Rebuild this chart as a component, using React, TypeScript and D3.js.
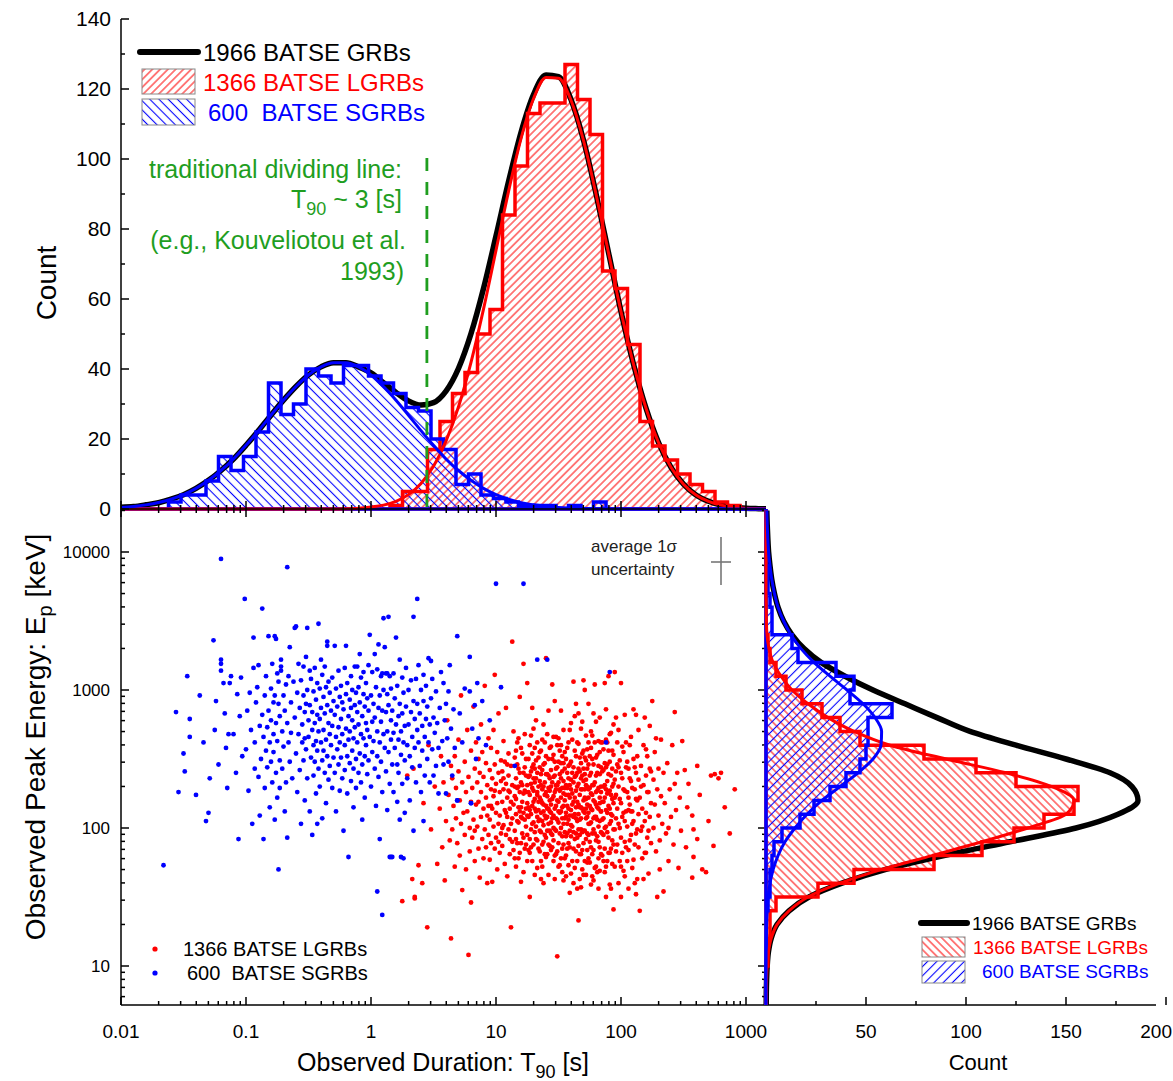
import React, { useEffect, useRef } from 'react';
import * as d3 from 'd3';

// ---------- top panel: T90 histograms, 0.1 dex bins ----------
const binWidth = 0.1;
const sgrbT90Lo = -2.02; // lower edge of first bin, log10(T90 / s)
const sgrbT90Counts = [0, 0, 0, 0, 2, 4, 4, 8, 15, 11, 15, 22, 36, 27, 30, 40, 38, 36, 41, 41, 38, 36, 33, 29, 28, 20, 17, 7, 10, 4, 3, 2, 1, 1, 1, 0, 1, 0, 2, 0, 0, 0, 0, 0, 0, 0, 0, 0, 0, 0, 0, 0];
const lgrbT90Lo = -2.148;
const lgrbT90Counts = [0, 0, 0, 0, 0, 0, 0, 0, 0, 0, 0, 0, 0, 0, 0, 0, 0, 0, 0, 0, 0, 0, 0, 1, 5, 5, 17, 25, 33, 39, 50, 57, 84, 98, 113, 116, 116, 127, 117, 107, 68, 63, 47, 25, 18, 14, 10, 7, 5, 2, 1, 0, 0, 0];

const t90Grid = [-2.0, -1.9, -1.8, -1.7, -1.6, -1.5, -1.4, -1.3, -1.2, -1.1, -1.0, -0.9, -0.8, -0.7, -0.6, -0.5, -0.4, -0.3, -0.2, -0.1, 0.0, 0.1, 0.2, 0.3, 0.4, 0.5, 0.6, 0.7, 0.8, 0.9, 1.0, 1.1, 1.2, 1.3, 1.4, 1.5, 1.6, 1.7, 1.8, 1.9, 2.0, 2.1, 2.2, 2.3, 2.4, 2.5, 2.6, 2.7, 2.8, 2.9, 3.0, 3.1, 3.2];
const allT90Fit = [0.5, 0.7, 1.2, 1.8, 2.8, 4.1, 5.9, 8.2, 11.0, 14.3, 18.2, 22.4, 26.8, 31.1, 35.0, 38.3, 40.6, 41.8, 41.8, 40.6, 38.9, 36.1, 33.3, 30.9, 29.7, 30.4, 33.7, 40.2, 50.1, 63.0, 78.0, 93.5, 107.6, 118.4, 124.0, 123.5, 117.0, 105.4, 90.1, 73.3, 56.4, 41.4, 28.8, 19.0, 11.9, 7.1, 4.0, 2.2, 1.1, 0.5, 0.2, 0.1, 0.05];
const sgrbT90Fit = [0.44, 0.73, 1.18, 1.84, 2.8, 4.1, 5.9, 8.2, 11.0, 14.3, 18.2, 22.4, 26.8, 31.1, 35.0, 38.3, 40.6, 41.8, 41.8, 40.6, 38.3, 35.0, 31.1, 26.8, 22.4, 18.2, 14.3, 11.0, 8.2, 5.9, 4.1, 2.8, 1.8, 1.2, 0.7, 0.4, 0.25, 0.15, 0.1, 0.05, 0, 0, 0, 0, 0, 0, 0, 0, 0, 0, 0, 0, 0];
const lgrbT90Fit = [0, 0, 0, 0, 0, 0, 0, 0, 0, 0, 0, 0, 0, 0, 0, 0, 0, 0, 0.05, 0.2, 0.55, 1.1, 2.2, 4.1, 7.3, 12.2, 19.4, 29.2, 41.9, 57.1, 73.9, 90.7, 105.8, 117.2, 123.3, 123.1, 116.8, 105.3, 90.0, 73.2, 56.4, 41.4, 28.8, 19.0, 11.9, 7.1, 4.0, 2.2, 1.1, 0.5, 0.2, 0.1, 0.05];

// ---------- right panel: Ep histograms, 0.1 dex bins ----------
const epLo = 0.7; // lower edge of first bin, log10(Ep / keV)
const lgrbEpCounts = [0, 0, 0, 1, 1, 2, 2, 5, 26, 44, 84, 108, 124, 139, 154, 156, 125, 105, 79, 47, 37, 28, 18, 10, 5, 2, 1, 0, 0, 0, 0, 0, 0, 0, 0, 0, 0];
const sgrbEpCounts = [0, 0, 0, 0, 0, 0, 0, 1, 2, 2, 3, 4, 8, 17, 24, 32, 40, 47, 50, 51, 51, 63, 42, 44, 35, 16, 13, 3, 3, 2, 1, 1, 0, 0, 0, 0, 0];

const epGrid = [0.7, 0.8, 0.9, 1.0, 1.1, 1.2, 1.3, 1.4, 1.5, 1.6, 1.7, 1.8, 1.9, 2.0, 2.1, 2.2, 2.3, 2.4, 2.5, 2.6, 2.7, 2.8, 2.9, 3.0, 3.1, 3.2, 3.3, 3.4, 3.5, 3.6, 3.7, 3.8, 3.9, 4.0, 4.1, 4.2, 4.3];
const lgrbEpFit = [0.08, 0.15, 0.3, 0.6, 1.2, 2.6, 5.5, 11.5, 21, 37, 58, 83, 108, 131, 150, 154, 143, 120, 90, 62, 44, 31, 21, 13, 7.5, 3.5, 1.5, 0.5, 0.2, 0.1, 0, 0, 0, 0, 0, 0, 0];
const sgrbEpFit = [0, 0, 0.01, 0.03, 0.07, 0.15, 0.3, 0.6, 1.1, 2.0, 3.6, 6, 9.5, 14.5, 20.5, 28, 37, 46, 53.5, 57.5, 57.8, 54.5, 48.5, 40.5, 32, 24, 17.5, 12.5, 8.8, 6.0, 4.2, 2.9, 2.0, 1.3, 0.9, 0.6, 0.4];
const allEpFit = [0.1, 0.15, 0.3, 0.6, 1.2, 2.6, 5.5, 11.5, 21.5, 38, 60, 89, 122, 155, 176, 186, 183, 172, 150, 125, 102, 85.5, 69.5, 53.5, 39.5, 27.5, 19, 13, 8.8, 6.0, 4.2, 2.9, 2.0, 1.3, 0.9, 0.6, 0.4];

const dividingT90 = 2.8;

// ---------- scatter: [log10(T90/s)*100, log10(Ep/keV)*100] ----------
const sgrbPoints = [
  [-166, 173], [-156, 284], [-150, 254], [-147, 310], [-154, 226], [-145, 279], [-145, 266], [-149, 241], [-140, 224], [-137, 296], [-134, 262],
  [-132, 205], [-130, 211], [-129, 236], [-126, 336], [-125, 271], [-124, 292], [-122, 246], [-120, 322], [-120, 319], [-120, 314], [-120, 395],
  [-118, 305], [-117, 283], [-116, 258], [-115, 229], [-114, 268], [-113, 305], [-112, 310], [-110, 268], [-108, 240], [-107, 297], [-106, 192],
  [-105, 281], [-104, 309], [-103, 252], [-101, 366], [-100, 257], [-99, 285], [-98, 227], [-97, 298], [-96, 271], [-95, 203], [-94, 338], [-94, 316],
  [-93, 262], [-93, 243], [-92, 291], [-91, 302], [-90, 318], [-90, 237], [-89, 274], [-89, 209], [-88, 250], [-87, 359], [-87, 282], [-86, 266],
  [-86, 192], [-85, 296], [-85, 229], [-84, 310], [-84, 256], [-83, 273], [-83, 244], [-82, 339], [-82, 285], [-81, 262], [-81, 215], [-80, 301],
  [-80, 248], [-80, 278], [-79, 319], [-79, 233], [-78, 291], [-78, 268], [-78, 255], [-77, 206], [-77, 339], [-77, 296], [-76, 337], [-76, 276],
  [-76, 240], [-75, 312], [-75, 263], [-75, 222], [-74, 306], [-74, 290], [-74, 170], [-73, 281], [-73, 249], [-73, 229], [-72, 322], [-72, 317],
  [-72, 314], [-71, 270], [-71, 243], [-70, 296], [-70, 259], [-69, 285], [-69, 212], [-68, 304], [-68, 233], [-67, 193], [-67, 276], [-67, 389],
  [-66, 310], [-66, 262], [-65, 331], [-65, 248], [-64, 291], [-64, 269], [-63, 236], [-62, 306], [-61, 345], [-61, 280], [-60, 346], [-60, 254],
  [-59, 298], [-59, 226], [-58, 319], [-58, 268], [-57, 287], [-57, 242], [-56, 307], [-56, 203], [-55, 262], [-55, 275], [-54, 296], [-54, 317],
  [-54, 249], [-53, 284], [-53, 220], [-53, 265], [-52, 324], [-52, 290], [-52, 257], [-51, 345], [-51, 300], [-51, 236], [-50, 278], [-50, 266],
  [-49, 314], [-49, 289], [-49, 212], [-48, 308], [-48, 251], [-47, 284], [-47, 271], [-47, 195], [-46, 299], [-46, 260], [-46, 238], [-45, 316],
  [-45, 276], [-45, 248], [-44, 293], [-44, 263], [-44, 225], [-43, 305], [-43, 282], [-43, 256], [-42, 348], [-42, 270], [-42, 243], [-43, 203],
  [-41, 301], [-41, 279], [-41, 230], [-40, 322], [-40, 262], [-40, 287], [-39, 249], [-39, 311], [-39, 207], [-38, 295], [-38, 271], [-38, 256],
  [-37, 283], [-37, 240], [-37, 317], [-36, 302], [-36, 264], [-36, 218], [-35, 335], [-35, 332], [-35, 289], [-35, 252], [-34, 306], [-34, 276],
  [-34, 235], [-33, 298], [-33, 268], [-33, 245], [-32, 285], [-32, 260], [-31, 309], [-31, 274], [-31, 229], [-30, 292], [-30, 251], [-29, 332],
  [-29, 282], [-29, 240], [-28, 301], [-28, 266], [-28, 212], [-27, 288], [-27, 257], [-26, 314], [-26, 273], [-26, 246], [-25, 295], [-25, 262],
  [-25, 227], [-24, 303], [-24, 279], [-24, 251], [-23, 268], [-23, 236], [-23, 291], [-22, 198], [-22, 286], [-21, 316], [-21, 260], [-21, 242],
  [-20, 297], [-20, 272], [-20, 332], [-19, 252], [-19, 225], [-19, 305], [-18, 281], [-18, 264], [-18, 179], [-17, 293], [-17, 247], [-17, 270],
  [-16, 310], [-16, 287], [-16, 234], [-15, 256], [-15, 278], [-15, 300], [-14, 265], [-14, 243], [-14, 215], [-13, 289], [-13, 317], [-13, 273],
  [-12, 250], [-12, 298], [-12, 229], [-11, 284], [-11, 262], [-11, 317], [-10, 302], [-10, 240], [-10, 275], [-9, 326], [-9, 291], [-9, 254],
  [-8, 268], [-8, 233], [-8, 309], [-7, 281], [-7, 246], [-7, 206], [-6, 297], [-6, 265], [-6, 313], [-5, 288], [-5, 252], [-5, 222], [-4, 276],
  [-4, 305], [-4, 260], [-3, 294], [-3, 239], [-3, 271], [-2, 318], [-2, 285], [-2, 249], [-1, 340], [-1, 266], [0, 296], [0, 230], [1, 313],
  [1, 277], [1, 255], [2, 290], [2, 263], [3, 326], [3, 243], [3, 280], [4, 302], [4, 216], [5, 270], [5, 252], [5, 315], [5, 154], [6, 287],
  [6, 237], [6, 333], [7, 262], [7, 296], [7, 192], [8, 277], [8, 310], [8, 248], [9, 285], [9, 226], [9, 137], [10, 268], [10, 300], [11, 331],
  [11, 258], [12, 284], [12, 312], [12, 241], [13, 297], [13, 270], [13, 213], [14, 353], [14, 289], [14, 255], [15, 310], [15, 232], [15, 179],
  [16, 278], [16, 264], [16, 301], [17, 246], [17, 285], [17, 179], [18, 312], [18, 269], [18, 226], [13, 312], [9, 312], [10, 352], [16, 179],
  [19, 294], [19, 258], [20, 275], [20, 338], [21, 246], [21, 303], [21, 219], [22, 281], [22, 264], [22, 240], [23, 322], [23, 290], [23, 206],
  [24, 270], [24, 253], [24, 179], [25, 309], [25, 283], [25, 232], [26, 262], [26, 298], [26, 178], [27, 249], [27, 274], [27, 211], [28, 288],
  [28, 316], [29, 260], [29, 236], [30, 300], [30, 275], [31, 252], [31, 220], [32, 284], [32, 307], [33, 266], [33, 244], [34, 353], [34, 292],
  [34, 198], [35, 279], [35, 258], [36, 308], [36, 233], [37, 366], [37, 271], [37, 290], [38, 262], [38, 318], [39, 283], [39, 245], [40, 300],
  [40, 226], [41, 274], [41, 256], [42, 311], [42, 292], [42, 205], [43, 266], [43, 238], [44, 279], [44, 303], [45, 250], [45, 288], [46, 262],
  [46, 323], [47, 233], [47, 275], [48, 321], [48, 294], [49, 308], [49, 257], [50, 280], [50, 238], [51, 269], [52, 299], [52, 245], [53, 276],
  [54, 258], [54, 225], [55, 287], [56, 313], [57, 263], [58, 246], [58, 305], [59, 278], [60, 290], [60, 225], [61, 265], [62, 299], [62, 248],
  [63, 318], [64, 272], [65, 238], [66, 286], [67, 258], [69, 339], [69, 220], [71, 283], [73, 262], [75, 301], [79, 324], [79, 299], [80, 218],
  [81, 272], [83, 289], [84, 250], [85, 305], [86, 265], [89, 292], [92, 260], [95, 278], [100, 377], [104, 302], [115, 245], [122, 377],
  [133, 322], [141, 322], [188, 262], [191, 313], [69, 220], [80, 218],
];

const lgrbPoints = [
  [25, 147], [29, 238], [33, 163], [35, 149], [35, 150], [38, 173], [41, 160], [34, 243], [42, 218], [45, 128], [46, 260], [48, 199], [51, 230],
  [53, 174], [55, 214], [56, 252], [57, 186], [58, 233], [59, 162], [60, 205], [61, 278], [62, 224], [63, 191], [64, 120], [64, 245], [65, 236],
  [65, 199], [66, 216], [67, 252], [67, 172], [68, 229], [68, 207], [69, 189], [70, 264], [70, 241], [71, 180], [71, 220], [72, 296], [72, 203],
  [73, 155], [73, 233], [74, 211], [75, 248], [75, 195], [76, 226], [76, 170], [77, 212], [77, 271], [78, 108], [78, 237], [79, 200], [79, 183],
  [80, 256], [80, 219], [80, 146], [81, 229], [81, 193], [82, 288], [82, 206], [83, 243], [83, 176], [84, 217], [84, 262], [83, 198], [85, 233],
  [85, 201], [86, 250], [86, 185], [86, 219], [87, 164], [87, 240], [88, 208], [88, 275], [88, 226], [89, 192], [89, 255], [90, 214], [90, 178],
  [90, 237], [91, 199], [91, 303], [92, 222], [92, 186], [92, 247], [93, 209], [93, 160], [93, 231], [94, 265], [94, 195], [94, 216], [95, 242],
  [95, 206], [95, 177], [96, 228], [96, 258], [96, 189], [97, 214], [97, 236], [97, 161], [98, 201], [98, 271], [98, 223], [99, 185], [99, 246],
  [99, 311], [100, 211], [100, 193], [100, 232], [101, 255], [101, 170], [101, 218], [102, 203], [102, 240], [102, 283], [103, 226], [103, 182],
  [103, 209], [104, 249], [104, 196], [104, 234], [96, 216], [99, 227], [102, 190], [105, 219], [105, 241], [105, 187], [106, 202], [106, 263],
  [106, 228], [107, 174], [107, 213], [107, 248], [108, 195], [108, 232], [108, 287], [109, 208], [109, 222], [109, 165], [110, 254], [110, 199],
  [110, 238], [111, 214], [111, 181], [111, 226], [112, 128], [112, 245], [112, 203], [113, 335], [113, 231], [113, 190], [114, 217], [114, 270],
  [114, 184], [106, 236], [108, 211], [110, 227], [112, 219], [105, 200], [109, 246], [111, 192], [113, 207], [115, 223], [115, 198], [115, 251],
  [116, 210], [116, 236], [116, 172], [117, 229], [117, 189], [117, 262], [118, 215], [118, 204], [118, 243], [119, 182], [119, 226], [119, 295],
  [120, 208], [120, 233], [120, 161], [121, 219], [121, 254], [121, 196], [122, 319], [122, 240], [122, 211], [123, 185], [123, 227], [123, 268],
  [124, 201], [124, 238], [124, 214], [115, 230], [116, 192], [117, 246], [118, 178], [119, 212], [120, 258], [121, 231], [122, 193], [123, 206],
  [124, 226], [115, 178], [116, 221], [117, 205], [118, 265], [119, 240], [120, 189], [121, 207], [122, 225], [123, 244], [124, 188], [118, 230],
  [120, 215], [122, 168], [124, 250], [116, 256], [125, 305], [125, 218], [125, 195], [126, 237], [126, 208], [126, 250], [127, 182], [127, 224],
  [127, 213], [128, 241], [128, 199], [128, 267], [129, 176], [129, 229], [129, 216], [130, 204], [130, 246], [130, 188], [131, 221], [131, 258],
  [131, 233], [132, 192], [132, 212], [132, 278], [133, 226], [133, 171], [133, 240], [134, 205], [134, 219], [134, 251], [125, 231], [126, 184],
  [127, 260], [128, 210], [129, 244], [130, 227], [131, 197], [132, 236], [133, 208], [134, 185], [125, 209], [126, 226], [127, 192], [128, 232],
  [129, 203], [130, 272], [131, 214], [132, 249], [133, 262], [134, 230], [125, 176], [126, 215], [127, 238], [128, 186], [129, 254], [130, 219],
  [131, 243], [132, 201], [133, 191], [134, 213], [127, 150], [129, 287], [131, 166], [133, 224], [130, 236], [135, 222], [135, 198], [135, 255],
  [136, 211], [136, 239], [136, 176], [137, 228], [137, 205], [137, 264], [138, 190], [138, 217], [138, 246], [139, 233], [139, 181], [139, 209],
  [140, 323], [140, 252], [140, 226], [141, 198], [141, 214], [141, 239], [142, 166], [142, 229], [142, 203], [143, 258], [143, 220], [143, 187],
  [144, 242], [144, 211], [144, 196], [135, 234], [136, 220], [137, 188], [138, 230], [139, 262], [140, 207], [141, 181], [142, 250], [143, 236],
  [144, 217], [135, 206], [136, 256], [137, 242], [138, 202], [139, 224], [140, 193], [141, 268], [142, 214], [143, 198], [144, 230], [135, 183],
  [136, 197], [137, 218], [138, 275], [139, 195], [140, 239], [141, 223], [142, 188], [143, 212], [144, 259], [135, 244], [137, 172], [139, 247],
  [141, 208], [143, 227], [136, 231], [138, 212], [140, 216], [142, 238], [144, 184], [136, 163], [138, 160], [140, 179], [142, 285], [144, 204],
  [145, 304], [145, 221], [145, 195], [146, 237], [146, 209], [146, 253], [147, 180], [147, 226], [147, 214], [148, 243], [148, 198], [148, 266],
  [149, 107], [149, 231], [149, 206], [150, 219], [150, 189], [150, 248], [151, 227], [151, 173], [151, 211], [152, 260], [152, 236], [152, 200],
  [153, 215], [153, 185], [153, 241], [154, 225], [154, 203], [154, 271], [145, 233], [146, 191], [147, 248], [148, 216], [149, 260], [150, 204],
  [151, 239], [152, 222], [153, 194], [154, 247], [145, 207], [146, 223], [147, 199], [148, 231], [149, 183], [150, 233], [151, 256], [152, 212],
  [153, 229], [154, 188], [145, 250], [146, 176], [147, 238], [148, 207], [149, 220], [150, 265], [151, 196], [152, 178], [153, 252], [154, 216],
  [145, 186], [147, 163], [149, 244], [151, 228], [153, 207], [146, 266], [148, 181], [150, 212], [152, 247], [154, 234], [146, 200], [148, 228],
  [150, 172], [152, 285], [154, 162], [147, 292], [153, 168], [155, 220], [155, 243], [155, 197], [156, 211], [156, 231], [156, 180], [157, 258],
  [157, 216], [157, 203], [158, 236], [158, 189], [158, 224], [159, 271], [159, 209], [159, 246], [160, 194], [160, 228], [160, 167], [161, 217],
  [161, 240], [161, 201], [162, 306], [162, 233], [162, 185], [163, 222], [163, 256], [163, 210], [164, 196], [164, 238], [164, 215], [155, 229],
  [156, 250], [157, 185], [158, 206], [159, 231], [160, 213], [161, 264], [162, 219], [163, 192], [164, 227], [155, 207], [156, 194], [157, 240],
  [158, 262], [159, 198], [160, 248], [161, 176], [162, 208], [163, 237], [164, 252], [155, 178], [156, 224], [157, 229], [158, 214], [159, 186],
  [160, 202], [161, 225], [162, 244], [163, 171], [164, 183], [155, 255], [157, 196], [159, 222], [161, 209], [163, 281], [156, 165], [158, 245],
  [160, 235], [162, 197], [164, 207], [156, 208], [158, 173], [160, 276], [162, 160], [164, 290], [166, 133], [159, 153], [165, 219], [165, 240],
  [165, 193], [166, 210], [166, 232], [166, 261], [167, 181], [167, 224], [167, 206], [168, 247], [168, 199], [168, 215], [169, 238], [169, 170],
  [169, 228], [170, 307], [170, 212], [170, 189], [171, 251], [171, 222], [171, 198], [172, 235], [172, 207], [172, 267], [173, 184], [173, 217],
  [173, 243], [174, 228], [174, 195], [174, 211], [165, 205], [166, 187], [167, 241], [168, 228], [169, 214], [170, 234], [171, 176], [172, 221],
  [173, 257], [174, 203], [165, 262], [166, 217], [167, 195], [168, 181], [169, 254], [170, 220], [171, 239], [172, 192], [173, 208], [174, 246],
  [165, 176], [166, 243], [167, 215], [168, 272], [169, 197], [170, 243], [171, 211], [172, 166], [173, 230], [174, 222], [165, 230], [167, 251],
  [169, 184], [171, 228], [173, 196], [166, 199], [168, 236], [170, 166], [172, 249], [174, 178], [166, 283], [168, 207], [170, 198], [172, 231],
  [174, 262], [167, 163], [169, 277], [171, 300], [173, 175], [165, 156], [170, 256], [172, 214], [168, 157], [174, 290], [175, 216], [175, 238],
  [175, 190], [176, 225], [176, 204], [176, 258], [177, 181], [177, 231], [177, 213], [178, 246], [178, 199], [178, 220], [179, 304], [179, 233],
  [179, 171], [180, 208], [180, 251], [180, 226], [181, 194], [181, 215], [181, 240], [182, 178], [182, 229], [182, 263], [183, 205], [183, 222],
  [183, 186], [184, 244], [184, 212], [184, 197], [175, 229], [176, 186], [177, 250], [178, 207], [179, 219], [180, 238], [181, 168], [182, 214],
  [183, 255], [184, 230], [175, 203], [176, 240], [177, 196], [178, 231], [179, 262], [180, 191], [181, 227], [182, 201], [183, 239], [184, 181],
  [175, 175], [176, 214], [177, 267], [178, 184], [179, 208], [180, 172], [181, 253], [182, 245], [183, 218], [184, 262], [175, 252], [177, 224],
  [179, 196], [181, 206], [183, 169], [176, 270], [178, 162], [180, 217], [182, 190], [184, 226], [176, 159], [178, 283], [180, 277], [182, 156],
  [184, 212], [177, 165], [183, 280], [185, 219], [185, 241], [185, 196], [186, 230], [186, 207], [186, 257], [187, 185], [187, 222], [187, 305],
  [188, 244], [188, 201], [188, 213], [189, 176], [189, 234], [189, 262], [190, 310], [190, 216], [190, 193], [191, 248], [191, 227], [191, 182],
  [192, 205], [192, 238], [192, 269], [193, 191], [193, 221], [193, 209], [194, 253], [194, 199], [194, 232], [185, 206], [186, 176], [187, 247],
  [188, 228], [189, 211], [190, 239], [191, 203], [192, 185], [193, 243], [194, 218], [185, 262], [186, 219], [187, 200], [188, 172], [189, 225],
  [190, 256], [191, 214], [192, 224], [193, 174], [194, 188], [185, 180], [186, 242], [187, 231], [188, 264], [189, 197], [190, 182], [191, 268],
  [192, 156], [193, 256], [194, 141], [186, 195], [188, 286], [190, 226], [192, 210], [194, 275], [187, 168], [189, 246], [191, 159], [193, 230],
  [195, 313], [188, 150], [195, 222], [195, 199], [196, 241], [196, 183], [197, 214], [197, 262], [198, 203], [198, 230], [199, 176], [199, 249],
  [200, 305], [200, 218], [200, 193], [201, 236], [201, 208], [202, 169], [202, 255], [203, 227], [203, 190], [204, 244], [204, 212], [195, 235],
  [196, 207], [197, 188], [198, 271], [199, 221], [200, 240], [201, 182], [202, 228], [203, 205], [204, 262], [195, 172], [197, 246], [199, 200],
  [201, 259], [203, 165], [196, 224], [198, 160], [200, 172], [202, 211], [204, 186], [196, 280], [198, 244], [200, 150], [203, 282], [205, 226],
  [205, 201], [206, 243], [206, 184], [207, 217], [207, 260], [208, 195], [208, 234], [209, 171], [209, 212], [210, 250], [210, 205], [211, 228],
  [211, 188], [212, 282], [212, 221], [212, 240], [213, 199], [213, 163], [214, 235], [214, 210], [205, 248], [206, 213], [207, 191], [208, 266],
  [209, 229], [210, 177], [211, 244], [212, 196], [213, 220], [214, 186], [205, 176], [207, 236], [209, 203], [211, 160], [213, 252], [206, 222],
  [208, 212], [210, 286], [212, 152], [214, 271], [206, 156], [215, 140], [215, 222], [216, 245], [216, 198], [217, 214], [217, 178], [218, 260],
  [218, 231], [219, 205], [219, 280], [219, 182], [220, 238], [220, 211], [221, 193], [221, 252], [222, 167], [222, 226], [223, 208], [223, 243],
  [224, 189], [224, 218], [216, 230], [217, 201], [218, 163], [220, 257], [221, 226], [222, 198], [223, 274], [224, 241], [220, 182], [225, 292],
  [226, 235], [226, 200], [227, 217], [227, 255], [228, 183], [229, 150], [229, 228], [230, 209], [230, 243], [231, 191], [232, 223], [232, 264],
  [233, 203], [234, 154], [234, 240], [228, 265], [231, 170], [235, 218], [236, 196], [237, 247], [238, 176], [239, 228], [240, 208], [241, 260],
  [242, 188], [243, 284], [243, 232], [244, 213], [238, 200], [245, 240], [246, 171], [247, 222], [248, 198], [249, 263], [251, 242], [252, 186],
  [253, 215], [254, 232], [257, 209], [257, 164], [258, 179], [258, 199], [261, 192], [261, 245], [263, 224], [265, 170], [268, 168], [270, 205],
  [272, 238], [274, 187], [275, 239], [278, 236], [280, 240], [283, 215], [287, 196], [291, 228],
];

const RED = '#ff0000';
const BLUE = '#0000ff';
const GREEN = '#1f9e1f';
const FONT = "'Liberation Sans', Arial, sans-serif";

export default function App() {
  const ref = useRef<SVGSVGElement>(null);

  useEffect(() => {
    const svg = d3.select(ref.current);
    svg.selectAll('*').remove();
    svg.attr('font-family', FONT);

    const L = 121, R = 766, TOP = 19, MID = 509, BOT = 1005;

    const x = d3.scaleLog().domain([0.01, Math.pow(10, 3.16)]).range([L, R]);
    const yTop = d3.scaleLinear().domain([0, 140]).range([MID, TOP]);
    const yEp = d3.scaleLog().domain([Math.pow(10, 0.7174), Math.pow(10, 4.3116)]).range([BOT, MID]);
    const xCnt = d3.scaleLinear().domain([0, 200]).range([R, R + 400]);

    const xl = (v: number) => x(Math.pow(10, v));
    const yl = (v: number) => yEp(Math.pow(10, v));

    // hatch patterns
    const defs = svg.append('defs');
    const hatch = (id: string, color: string, gap: number, angle: number, w: number) => {
      defs.append('pattern').attr('id', id).attr('patternUnits', 'userSpaceOnUse')
        .attr('width', gap).attr('height', gap).attr('patternTransform', `rotate(${angle})`)
        .append('line').attr('x1', gap / 2).attr('y1', 0).attr('x2', gap / 2).attr('y2', gap)
        .attr('stroke', color).attr('stroke-width', w);
    };
    hatch('redUp', RED, 5.5, 45, 1);
    hatch('blueDown', BLUE, 6.5, -45, 1.1);
    hatch('redDown', RED, 5.5, -45, 1);
    hatch('blueUp', BLUE, 6.5, 45, 1.1);

    defs.append('clipPath').attr('id', 'clipTop').append('rect').attr('x', L).attr('y', 0).attr('width', R - L).attr('height', MID + 3);
    defs.append('clipPath').attr('id', 'clipRight').append('rect').attr('x', R - 3).attr('y', MID).attr('width', 420).attr('height', BOT - MID);
    defs.append('clipPath').attr('id', 'clipScatter').append('rect').attr('x', L).attr('y', MID).attr('width', R - L).attr('height', BOT - MID);

    const line = d3.line<[number, number]>();

    // ---------- top panel ----------
    const top = svg.append('g').attr('clip-path', 'url(#clipTop)');
    const stepTop = (lo: number, counts: number[]) => {
      const pts: [number, number][] = [[xl(lo), yTop(0)]];
      counts.forEach((c, i) => {
        pts.push([xl(lo + i * binWidth), yTop(c)]);
        pts.push([xl(lo + (i + 1) * binWidth), yTop(c)]);
      });
      pts.push([xl(lo + counts.length * binWidth), yTop(0)]);
      return line(pts) + 'Z';
    };
    const fitTop = d3.line<number>().x((_, i) => xl(t90Grid[i])).y((d) => yTop(d)).curve(d3.curveMonotoneX);

    top.append('path').attr('d', stepTop(lgrbT90Lo, lgrbT90Counts)).attr('fill', 'url(#redUp)');
    top.append('path').attr('d', stepTop(sgrbT90Lo, sgrbT90Counts)).attr('fill', 'url(#blueDown)');
    top.append('path').attr('d', fitTop(allT90Fit)).attr('fill', 'none').attr('stroke', '#000').attr('stroke-width', 5.5);
    top.append('path').attr('d', stepTop(lgrbT90Lo, lgrbT90Counts)).attr('fill', 'none').attr('stroke', RED).attr('stroke-width', 3.5);
    top.append('path').attr('d', stepTop(sgrbT90Lo, sgrbT90Counts)).attr('fill', 'none').attr('stroke', BLUE).attr('stroke-width', 3.5);
    top.append('path').attr('d', fitTop(lgrbT90Fit)).attr('fill', 'none').attr('stroke', RED).attr('stroke-width', 3);
    top.append('path').attr('d', fitTop(sgrbT90Fit)).attr('fill', 'none').attr('stroke', BLUE).attr('stroke-width', 3);

    // dividing line
    svg.append('line').attr('x1', x(dividingT90)).attr('x2', x(dividingT90)).attr('y1', 158).attr('y2', MID)
      .attr('stroke', GREEN).attr('stroke-width', 2.8).attr('stroke-dasharray', '13,11');

    // axes
    const ax = svg.append('g').attr('stroke', '#000').attr('stroke-width', 1.5);
    ax.append('line').attr('x1', L).attr('x2', L).attr('y1', TOP).attr('y2', BOT);
    ax.append('line').attr('x1', L).attr('x2', R).attr('y1', MID).attr('y2', MID);
    ax.append('line').attr('x1', L).attr('x2', R).attr('y1', BOT).attr('y2', BOT);
    ax.append('line').attr('x1', R).attr('x2', R).attr('y1', MID).attr('y2', BOT);
    ax.append('line').attr('x1', R).attr('x2', R + 390).attr('y1', BOT).attr('y2', BOT);

    d3.range(0, 141, 10).forEach((v) => {
      const len = v % 20 === 0 ? 8 : 4;
      ax.append('line').attr('x1', L).attr('x2', L + len).attr('y1', yTop(v)).attr('y2', yTop(v));
    });
    const isDecade = (v: number) => Math.abs(Math.log10(v) - Math.round(Math.log10(v))) < 1e-6;
    x.ticks().forEach((v) => {
      const len = isDecade(v) ? 8 : 4;
      ax.append('line').attr('x1', x(v)).attr('x2', x(v)).attr('y1', MID).attr('y2', MID - len);
      ax.append('line').attr('x1', x(v)).attr('x2', x(v)).attr('y1', MID).attr('y2', MID + len);
      ax.append('line').attr('x1', x(v)).attr('x2', x(v)).attr('y1', BOT).attr('y2', BOT - len);
    });
    yEp.ticks().forEach((v) => {
      const len = isDecade(v) ? 8 : 4;
      ax.append('line').attr('x1', L).attr('x2', L + len).attr('y1', yEp(v)).attr('y2', yEp(v));
      ax.append('line').attr('x1', R).attr('x2', R - len).attr('y1', yEp(v)).attr('y2', yEp(v));
    });
    d3.range(0, 201, 25).forEach((v) => {
      const len = v % 50 === 0 ? 8 : 4;
      ax.append('line').attr('x1', xCnt(v)).attr('x2', xCnt(v)).attr('y1', BOT).attr('y2', BOT - len);
    });

    const label = (px: number, py: number, s: string, size: number, anchor = 'middle', fill = '#000') =>
      svg.append('text').attr('x', px).attr('y', py).attr('font-size', size).attr('text-anchor', anchor)
        .attr('fill', fill).style('white-space', 'pre').text(s);

    d3.range(0, 141, 20).forEach((v) => label(111, yTop(v) + 7, String(v), 21, 'end'));
    [10, 100, 1000, 10000].forEach((v) => label(110, yEp(v) + 6, String(v), 17, 'end'));
    [0.01, 0.1, 1, 10, 100, 1000].forEach((v) => label(x(v), 1038, String(v), 19));
    [50, 100, 150].forEach((v) => label(xCnt(v), 1038, String(v), 19));
    label(1172, 1038, '200', 19, 'end');

    // axis titles
    svg.append('text').attr('transform', 'translate(56,283) rotate(-90)').attr('text-anchor', 'middle')
      .attr('font-size', 28).text('Count');
    label(978, 1070, 'Count', 22);
    const xt = svg.append('text').attr('x', 443).attr('y', 1071).attr('text-anchor', 'middle').attr('font-size', 25);
    xt.append('tspan').text('Observed Duration: T');
    xt.append('tspan').attr('font-size', 18).attr('dy', 7).text('90');
    xt.append('tspan').attr('dy', -7).text(' [s]');
    const yt = svg.append('text').attr('transform', 'translate(45,737) rotate(-90)').attr('text-anchor', 'middle').attr('font-size', 28);
    yt.append('tspan').text('Observed Peak Energy: E');
    yt.append('tspan').attr('font-size', 20).attr('dy', 7).text('p');
    yt.append('tspan').attr('dy', -7).text(' [keV]');

    // top legend
    svg.append('line').attr('x1', 140).attr('x2', 198).attr('y1', 52).attr('y2', 52).attr('stroke', '#000').attr('stroke-width', 6).attr('stroke-linecap', 'round');
    label(203, 61, '1966 BATSE GRBs', 24, 'start');
    svg.append('rect').attr('x', 142).attr('y', 69).attr('width', 53).attr('height', 25).attr('fill', 'url(#redUp)').attr('stroke', '#888');
    label(203, 91, '1366 BATSE LGRBs', 24, 'start', RED);
    svg.append('rect').attr('x', 142).attr('y', 99).attr('width', 53).attr('height', 26).attr('fill', 'url(#blueDown)').attr('stroke', '#888');
    label(208, 121, '600  BATSE SGRBs', 24, 'start', BLUE);

    // green annotation
    label(402, 178, 'traditional dividing line:', 25, 'end', GREEN);
    const tg = svg.append('text').attr('x', 402).attr('y', 208).attr('text-anchor', 'end').attr('font-size', 25).attr('fill', GREEN);
    tg.append('tspan').text('T');
    tg.append('tspan').attr('font-size', 18).attr('dy', 7).text('90');
    tg.append('tspan').attr('dy', -7).text(' ~ 3 [s]');
    label(406, 249, '(e.g., Kouveliotou et al.', 25, 'end', GREEN);
    label(404, 280, '1993)', 25, 'end', GREEN);

    // ---------- scatter ----------
    const sc = svg.append('g').attr('clip-path', 'url(#clipScatter)');
    sc.selectAll('circle.l').data(lgrbPoints).enter().append('circle')
      .attr('cx', (d) => xl(d[0] / 100)).attr('cy', (d) => yl(d[1] / 100)).attr('r', 2.4).attr('fill', RED);
    sc.selectAll('circle.s').data(sgrbPoints).enter().append('circle')
      .attr('cx', (d) => xl(d[0] / 100)).attr('cy', (d) => yl(d[1] / 100)).attr('r', 2.4).attr('fill', BLUE);

    svg.append('circle').attr('cx', 155).attr('cy', 949).attr('r', 2.6).attr('fill', RED);
    label(183, 956, '1366 BATSE LGRBs', 20, 'start');
    svg.append('circle').attr('cx', 155).attr('cy', 973).attr('r', 2.6).attr('fill', BLUE);
    label(187, 980, '600  BATSE SGRBs', 20, 'start');

    label(591, 552, 'average 1σ', 17, 'start', '#222');
    label(591, 575, 'uncertainty', 17, 'start', '#222');
    svg.append('line').attr('x1', 721).attr('x2', 721).attr('y1', 537).attr('y2', 585).attr('stroke', '#777').attr('stroke-width', 1.6);
    svg.append('line').attr('x1', 711).attr('x2', 731).attr('y1', 562).attr('y2', 562).attr('stroke', '#777').attr('stroke-width', 1.6);

    // ---------- right panel ----------
    const rt = svg.append('g').attr('clip-path', 'url(#clipRight)');
    const stepRight = (lo: number, counts: number[]) => {
      const pts: [number, number][] = [[xCnt(0), yl(lo)]];
      counts.forEach((c, i) => {
        pts.push([xCnt(c), yl(lo + i * binWidth)]);
        pts.push([xCnt(c), yl(lo + (i + 1) * binWidth)]);
      });
      pts.push([xCnt(0), yl(lo + counts.length * binWidth)]);
      return line(pts) + 'Z';
    };
    const fitRight = d3.line<number>().y((_, i) => yl(epGrid[i])).x((d) => xCnt(d)).curve(d3.curveMonotoneY);

    rt.append('path').attr('d', stepRight(epLo, lgrbEpCounts)).attr('fill', 'url(#redDown)');
    rt.append('path').attr('d', stepRight(epLo, sgrbEpCounts)).attr('fill', 'url(#blueUp)');
    rt.append('path').attr('d', fitRight(allEpFit)).attr('fill', 'none').attr('stroke', '#000').attr('stroke-width', 5.5);
    rt.append('path').attr('d', stepRight(epLo, lgrbEpCounts)).attr('fill', 'none').attr('stroke', RED).attr('stroke-width', 3.5);
    rt.append('path').attr('d', stepRight(epLo, sgrbEpCounts)).attr('fill', 'none').attr('stroke', BLUE).attr('stroke-width', 3.5);
    rt.append('path').attr('d', fitRight(lgrbEpFit)).attr('fill', 'none').attr('stroke', RED).attr('stroke-width', 3);
    rt.append('path').attr('d', fitRight(sgrbEpFit)).attr('fill', 'none').attr('stroke', BLUE).attr('stroke-width', 3);

    // right legend
    svg.append('line').attr('x1', 921).attr('x2', 967).attr('y1', 923).attr('y2', 923).attr('stroke', '#000').attr('stroke-width', 6).attr('stroke-linecap', 'round');
    label(972, 930, '1966 BATSE GRBs', 19, 'start');
    svg.append('rect').attr('x', 922).attr('y', 937).attr('width', 43).attr('height', 20).attr('fill', 'url(#redDown)').attr('stroke', '#888');
    label(973, 954, '1366 BATSE LGRBs', 19, 'start', RED);
    svg.append('rect').attr('x', 922).attr('y', 961).attr('width', 43).attr('height', 22).attr('fill', 'url(#blueUp)').attr('stroke', '#888');
    label(982, 978, '600 BATSE SGRBs', 19, 'start', BLUE);
  }, []);

  return (
    <svg ref={ref} width={1173} height={1081} style={{ position: 'absolute', left: 0, top: 0, background: '#fff' }} />
  );
}
